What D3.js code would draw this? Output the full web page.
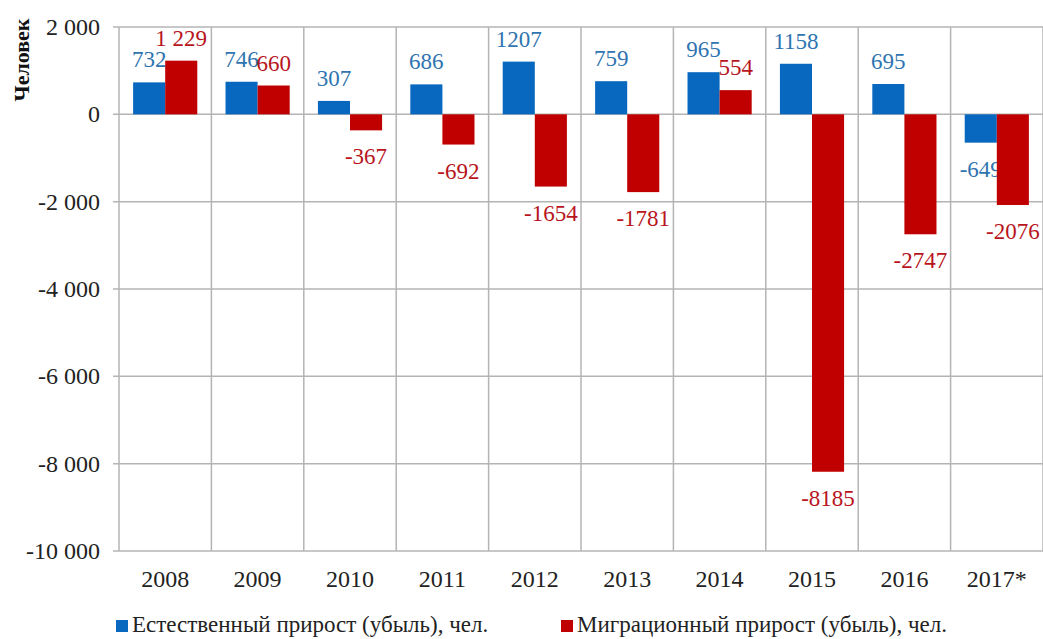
<!DOCTYPE html>
<html>
<head>
<meta charset="UTF-8">
<title>Естественный и миграционный прирост</title>
<script src="https://d3js.org/d3.v7.min.js"></script>
<style>
  body { margin: 0; background: #fff; }
  svg text { font-family: "Liberation Serif", "DejaVu Serif", "Times New Roman", serif; }
  .grid line { stroke: #b4b4b4; stroke-width: 1.5px; }
  .tick-label { font-size: 24px; fill: #222; }
  .val { font-size: 23px; }
</style>
</head>
<body>
<div id="chart"></div>
<script>
const years = ["2008", "2009", "2010", "2011", "2012", "2013", "2014", "2015", "2016", "2017*"];
const natural = [732, 746, 307, 686, 1207, 759, 965, 1158, 695, -649];
const migration = [1229, 660, -367, -692, -1654, -1781, 554, -8185, -2747, -2076];
const naturalLabels = ["732", "746", "307", "686", "1207", "759", "965", "1158", "695", "-649"];
const migrationLabels = ["1 229", "660", "-367", "-692", "-1654", "-1781", "554", "-8185", "-2747", "-2076"];
const seriesNames = ["Естественный прирост (убыль), чел.", "Миграционный прирост (убыль), чел."];
const yTicks = [2000, 0, -2000, -4000, -6000, -8000, -10000];

const W = 1043, H = 639;
const margin = { top: 27, right: 0, bottom: 88, left: 119 };
const width = W - margin.left - margin.right;
const height = H - margin.top - margin.bottom;

const barColors = ["#0868c0", "#c00000"];
const labelColors = ["#2f74b0", "#b8141c"];

const svg = d3.select("#chart").append("svg")
  .attr("width", W)
  .attr("height", H)
  .attr("font-family", "'Liberation Serif', 'DejaVu Serif', serif");

const g = svg.append("g")
  .attr("transform", "translate(" + margin.left + "," + margin.top + ")");

const x = d3.scaleBand().domain(years).range([0, width]);
const y = d3.scaleLinear().domain([-10000, 2000]).range([height, 0]);

const fmt = v => {
  const s = Math.abs(v).toString().replace(/\B(?=(\d{3})+(?!\d))/g, " ");
  return (v < 0 ? "-" : "") + s;
};

// horizontal grid
const grid = g.append("g").attr("class", "grid");
grid.selectAll(".h").data(yTicks).enter().append("line")
  .attr("x1", -6).attr("x2", width)
  .attr("y1", d => y(d)).attr("y2", d => y(d));

// vertical grid
const vlines = years.map(d => x(d)).concat([width]);
grid.selectAll(".v").data(vlines).enter().append("line")
  .attr("x1", d => d).attr("x2", d => d)
  .attr("y1", y(2000)).attr("y2", y(-10000));

// y tick labels
g.selectAll(".ylab").data(yTicks).enter().append("text")
  .attr("class", "tick-label")
  .attr("x", -19)
  .attr("y", d => y(d))
  .attr("dy", "0.33em")
  .attr("text-anchor", "end")
  .text(fmt);

// x labels
g.selectAll(".xlab").data(years).enter().append("text")
  .attr("class", "tick-label")
  .attr("x", d => x(d) + x.bandwidth() / 2)
  .attr("y", height + 36)
  .attr("text-anchor", "middle")
  .text(d => d);

// bars
const inner = d3.scaleBand().domain([0, 1]).range([0, x.bandwidth()]).paddingOuter(0.44).paddingInner(0);
const series = [natural, migration];
const seriesLabels = [naturalLabels, migrationLabels];

series.forEach((vals, s) => {
  const data = years.map((yr, i) => ({ yr: yr, v: vals[i], label: seriesLabels[s][i] }));
  g.selectAll(".bar" + s).data(data).enter().append("rect")
    .attr("x", d => x(d.yr) + inner(s))
    .attr("y", d => y(Math.max(0, d.v)))
    .attr("width", inner.bandwidth())
    .attr("height", d => Math.abs(y(d.v) - y(0)))
    .style("fill", barColors[s]);

  g.selectAll(".val" + s).data(data).enter().append("text")
    .attr("class", "val")
    .attr("x", d => x(d.yr) + inner(s) + inner.bandwidth() / 2)
    .attr("y", d => d.v >= 0 ? y(d.v) - 15 : y(d.v) + 34)
    .attr("text-anchor", "middle")
    .style("fill", labelColors[s])
    .text(d => d.label);
});

// y axis title
svg.append("text")
  .attr("transform", "translate(29,60) rotate(-90)")
  .attr("text-anchor", "middle")
  .style("font-size", "22px")
  .style("font-weight", "bold")
  .style("fill", "#111")
  .text("Человек");

// legend
const legendX = [116, 561];
seriesNames.forEach((name, s) => {
  const lg = svg.append("g").attr("transform", "translate(" + legendX[s] + ",632)");
  lg.append("rect")
    .attr("x", 0).attr("y", -12)
    .attr("width", 12).attr("height", 12)
    .style("fill", barColors[s]);
  lg.append("text")
    .attr("x", 16).attr("y", 0)
    .style("font-size", "23px")
    .style("fill", "#222")
    .text(name);
});
</script>
</body>
</html>
